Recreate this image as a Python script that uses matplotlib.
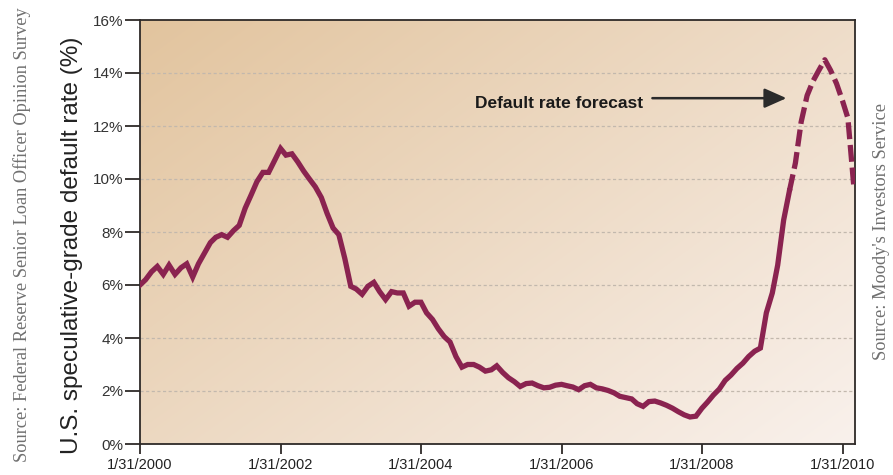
import matplotlib
matplotlib.use("Agg")
import matplotlib.pyplot as plt
import matplotlib.dates as mdates
import numpy as np
import pandas as pd

# Monthly speculative-grade default rate (%), Jan 2000 - Mar 2010
dates = pd.date_range("2000-01-31", periods=123, freq="ME")
default_rate = [
    6.0, 6.2, 6.5, 6.7, 6.4, 6.75, 6.4, 6.65, 6.8, 6.3, 6.8, 7.2,
    7.6, 7.8, 7.9, 7.8, 8.05, 8.25, 8.9, 9.4, 9.9, 10.25, 10.25, 10.7,
    11.15, 10.9, 10.95, 10.65, 10.3, 10.0, 9.7, 9.3, 8.7, 8.15, 7.9, 7.0,
    5.95, 5.85, 5.65, 5.95, 6.1, 5.75, 5.45, 5.75, 5.7, 5.7, 5.2, 5.35,
    5.35, 4.95, 4.7, 4.35, 4.05, 3.85, 3.3, 2.9, 3.0, 3.0, 2.9, 2.75,
    2.8, 2.95, 2.7, 2.5, 2.35, 2.17, 2.28, 2.3, 2.2, 2.12, 2.14, 2.22,
    2.25, 2.2, 2.15, 2.05, 2.2, 2.25, 2.12, 2.08, 2.02, 1.93, 1.8, 1.75,
    1.7, 1.52, 1.42, 1.6, 1.62, 1.55, 1.46, 1.35, 1.22, 1.1, 1.02, 1.05,
    1.35, 1.58, 1.85, 2.07, 2.4, 2.6, 2.85, 3.05, 3.3, 3.5, 3.62, 4.95,
    5.7, 6.75, 8.45, 9.55, 10.6, 12.15, 13.15, 13.7, 14.1, 14.5, 14.1, 13.6,
    12.95, 12.3, 9.7,
]
forecast_start = pd.Timestamp("2009-04-30")

y_ticks = [0, 2, 4, 6, 8, 10, 12, 14, 16]
x_ticks = pd.to_datetime(["2000-01-31", "2002-01-31", "2004-01-31",
                          "2006-01-31", "2008-01-31", "2010-01-31"])

line_color = "#8a2350"
axis_color = "#2e2a28"

plt.rcParams["font.family"] = ["Liberation Sans", "DejaVu Sans"]

fig = plt.figure(figsize=(8.93, 4.75), dpi=100)
ax = fig.add_axes([140 / 893, 31 / 475, 715 / 893, 424 / 475])

# warm diagonal wash behind the plot
gx, gy = np.meshgrid(np.linspace(0, 1, 200), np.linspace(1, 0, 200))
w = np.clip(0.55 * gx + 0.45 * (1 - gy), 0, 1)[..., None]
c0 = np.array([226, 196, 158]) / 255
c1 = np.array([249, 241, 236]) / 255
ax.imshow(c0 + (c1 - c0) * w, extent=[0, 1, 0, 1], transform=ax.transAxes,
          aspect="auto", zorder=0, interpolation="bicubic")

rate = pd.Series(default_rate, index=dates)
actual = rate[rate.index <= forecast_start]
forecast = rate[rate.index >= forecast_start]

ax.plot(actual.index, actual.values, color=line_color, lw=3.8,
        solid_joinstyle="miter", zorder=3)
ax.plot(forecast.index, forecast.values, color=line_color, lw=3.8,
        dashes=(3.2, 1.1), zorder=3)

ax.set_xlim(dates[0], dates[-1] + pd.Timedelta(days=6))
ax.set_ylim(0, 16)
ax.set_yticks(y_ticks)
ax.set_yticklabels([f"{v}%" for v in y_ticks])
ax.set_xticks(x_ticks)
ax.xaxis.set_major_formatter(mdates.DateFormatter("%-m/%d/%Y"))

for v in y_ticks[1:-1]:
    ax.axhline(v, color="#c2b8ad", lw=0.9, ls=(0, (2.5, 2)), zorder=1)

for s in ax.spines.values():
    s.set_color(axis_color)
    s.set_linewidth(1.3)
ax.tick_params(axis="y", direction="out", length=11, width=1.3,
               color=axis_color, labelsize=11, labelcolor="#333333", pad=1)
ax.tick_params(axis="x", direction="out", length=7, width=1.3,
               color=axis_color, labelsize=10.5, labelcolor="#222222", pad=3)

ax.annotate("", xy=(pd.Timestamp("2009-04-29"), 13.05),
            xytext=(pd.Timestamp("2007-05-04"), 13.05),
            arrowprops=dict(arrowstyle="-|>,head_length=0.9,head_width=0.4",
                            mutation_scale=15, color="#2b2b2b", lw=1.8),
            zorder=4)
ax.text(pd.Timestamp("2007-04-02"), 12.85, "Default rate forecast",
        ha="right", va="center", fontsize=12.5, fontweight="bold",
        color="#1a1a1a", zorder=4)

fig.text(72 / 893, 1 - 245 / 475, "U.S. speculative-grade default rate (%)",
         rotation=90, ha="center", va="center", fontsize=17.5, color="#222222")
fig.text(22 / 893, 1 - 235 / 475,
         "Source: Federal Reserve Senior Loan Officer Opinion Survey",
         rotation=90, ha="center", va="center", fontsize=13.2,
         family="Liberation Serif", color="#707070")
fig.text(881 / 893, 1 - 231 / 475, "Source: Moody's Investors Service",
         rotation=90, ha="center", va="center", fontsize=13.2,
         family="Liberation Serif", color="#707070")

fig.savefig("out.png", dpi=100, facecolor="white")
